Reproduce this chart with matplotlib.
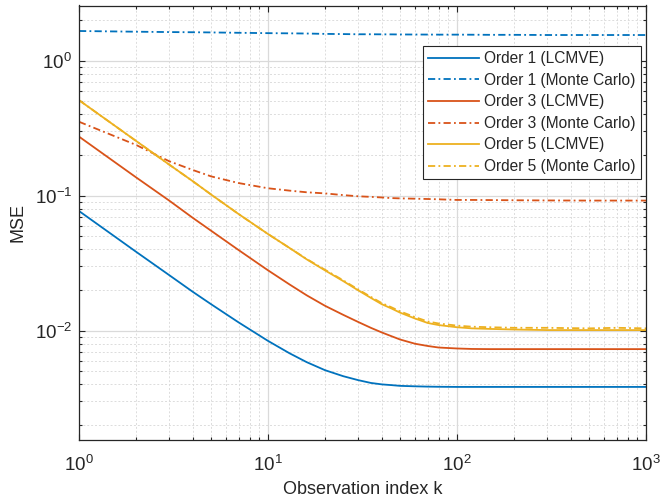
import matplotlib
matplotlib.use("Agg")
import matplotlib.pyplot as plt
from matplotlib.ticker import LogLocator, NullFormatter

plt.rcParams['font.family'] = ['Liberation Sans', 'DejaVu Sans']
plt.rcParams['mathtext.fontset'] = 'custom'
plt.rcParams['mathtext.rm'] = 'Liberation Sans'

k = [1, 2, 3, 4, 5, 7, 10, 13, 16, 20, 25, 30, 35, 40, 45, 50, 60, 70, 80,
     100, 120, 150, 200, 300, 500, 700, 1000]

order1_lcmve = [0.077, 0.0385, 0.0258, 0.0194, 0.0157, 0.0115, 0.0084, 0.0068, 0.00585,
                0.0051, 0.0046, 0.0043, 0.0041, 0.0040, 0.00395, 0.0039, 0.00387, 0.00385,
                0.00384, 0.00383, 0.00383, 0.00383, 0.00383, 0.00383, 0.00383, 0.00383, 0.00383]
order1_mc = [1.66, 1.64, 1.63, 1.625, 1.62, 1.61, 1.60, 1.595, 1.59, 1.58, 1.575, 1.57,
             1.57, 1.568, 1.567, 1.565, 1.563, 1.562, 1.56, 1.56, 1.558, 1.555, 1.555,
             1.55, 1.55, 1.55, 1.55]
order3_lcmve = [0.274, 0.137, 0.092, 0.0685, 0.055, 0.0395, 0.0280, 0.0220, 0.0183,
                0.0153, 0.0131, 0.0116, 0.0105, 0.0097, 0.0091, 0.0086, 0.0080, 0.0077,
                0.0075, 0.00738, 0.00732, 0.0073, 0.0073, 0.0073, 0.0073, 0.0073, 0.0073]
order3_mc = [0.353, 0.238, 0.180, 0.155, 0.139, 0.124, 0.1135, 0.109, 0.106, 0.104,
             0.101, 0.099, 0.098, 0.097, 0.096, 0.0955, 0.095, 0.0945, 0.094, 0.093,
             0.093, 0.0928, 0.0925, 0.0922, 0.092, 0.092, 0.092]
order5_lcmve = [0.51, 0.255, 0.170, 0.128, 0.102, 0.073, 0.052, 0.041, 0.0338, 0.0280,
                0.0233, 0.0199, 0.0175, 0.0157, 0.0146, 0.0136, 0.0123, 0.0114, 0.0110,
                0.0106, 0.0104, 0.0103, 0.0102, 0.0101, 0.0101, 0.0101, 0.0101]
order5_mc = [0.51, 0.255, 0.170, 0.128, 0.102, 0.073, 0.052, 0.041, 0.0340, 0.0283,
             0.0236, 0.0202, 0.0178, 0.0160, 0.0149, 0.0139, 0.0126, 0.0117, 0.0113,
             0.0109, 0.0107, 0.0106, 0.0105, 0.0105, 0.0104, 0.0105, 0.0104]

labels = ['Order 1 (LCMVE)', 'Order 1 (Monte Carlo)', 'Order 3 (LCMVE)',
          'Order 3 (Monte Carlo)', 'Order 5 (LCMVE)', 'Order 5 (Monte Carlo)']
colors = ['#0072BD', '#D95319', '#EDB120']

fig = plt.figure(figsize=(6.62, 5.04), dpi=100)
ax = fig.add_axes([79/662, 1-440/504, (646-79)/662, (440-5.5)/504])

lw = 1.3
dd = [4, 1.8, 1, 1.8]
series = [(order1_lcmve, order1_mc), (order3_lcmve, order3_mc), (order5_lcmve, order5_mc)]
for i, (sol, mc) in enumerate(series):
    ax.plot(k, sol, color=colors[i], lw=lw, label=labels[2*i])
    ax.plot(k, mc, color=colors[i], lw=lw, dashes=dd, label=labels[2*i+1])

ax.set_xscale('log')
ax.set_yscale('log')
ax.set_xlim(1, 1000)
ax.set_ylim(10**-2.81, 10**0.409)

ax.xaxis.set_major_locator(LogLocator(base=10, numticks=10))
ax.xaxis.set_minor_locator(LogLocator(base=10, subs=range(2, 10), numticks=100))
ax.yaxis.set_major_locator(LogLocator(base=10, numticks=10))
ax.yaxis.set_minor_locator(LogLocator(base=10, subs=range(2, 10), numticks=100))
ax.xaxis.set_minor_formatter(NullFormatter())
ax.yaxis.set_minor_formatter(NullFormatter())

ax.grid(True, which='major', color='#dadada', lw=0.9, ls='-')
ax.grid(True, which='minor', color='#dcdcdc', lw=0.7, ls=(0, (2, 2)))
ax.set_axisbelow(True)

tc = '#262626'
ax.tick_params(which='both', direction='in', top=True, right=True, colors=tc,
               labelsize=13.5, width=0.8)
ax.tick_params(which='major', length=4)
ax.tick_params(which='minor', length=2.5)
ax.tick_params(axis='x', pad=11)
ax.tick_params(axis='y', pad=5)
for s in ax.spines.values():
    s.set_color(tc)
    s.set_linewidth(0.9)

ax.set_xlabel('Observation index k', fontsize=13, color=tc, labelpad=4)
ax.set_ylabel('MSE', fontsize=13, color=tc, labelpad=6)

leg = ax.legend(loc='upper right', bbox_to_anchor=(0.991, 0.907), fontsize=11.2,
                fancybox=False, edgecolor=tc, framealpha=1, handlelength=3.3,
                handletextpad=0.3, borderpad=0.35, labelspacing=0.42, borderaxespad=0)
leg.get_frame().set_linewidth(0.8)
for t in leg.get_texts():
    t.set_color(tc)

fig.savefig('out.png', dpi=100)
